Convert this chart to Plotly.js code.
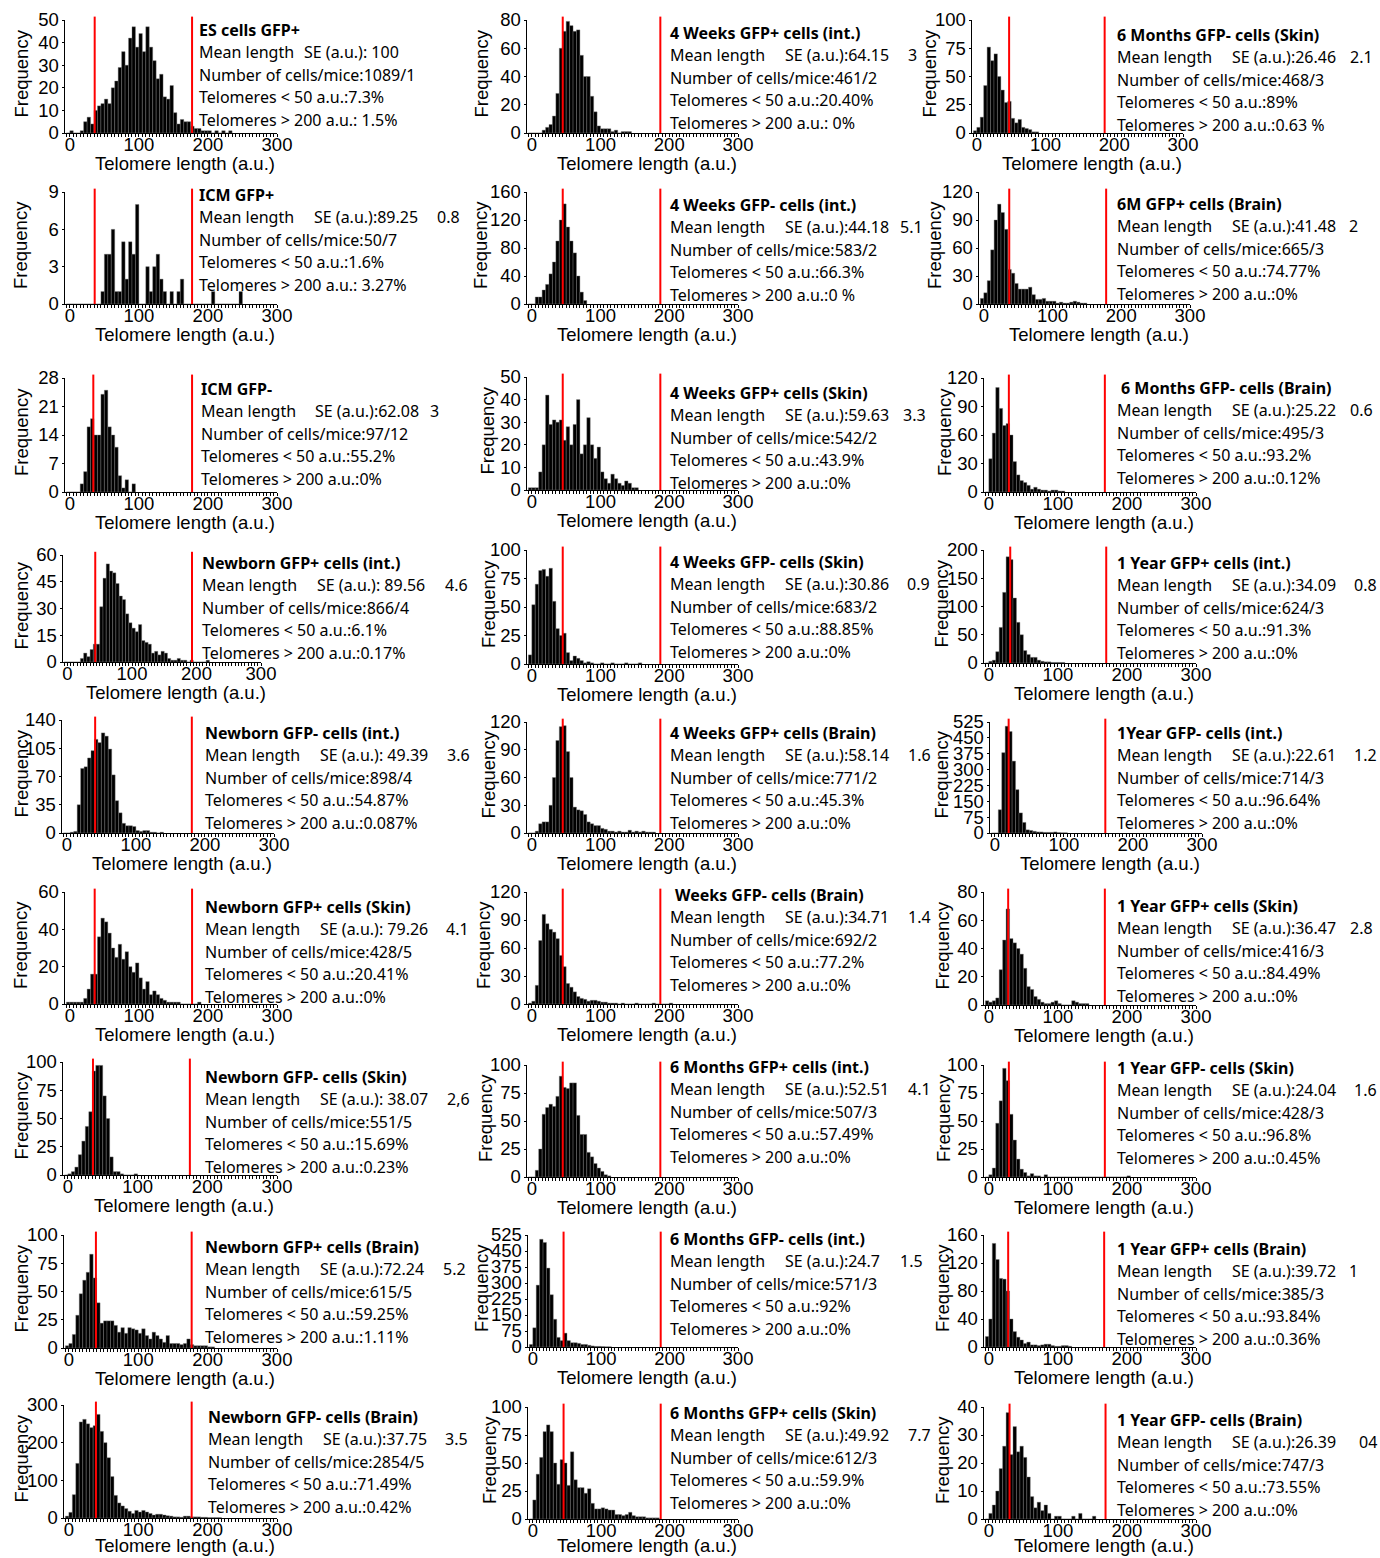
<!DOCTYPE html>
<html>
<head>
<meta charset="utf-8">
<script src="https://cdn.plot.ly/plotly-3.0.1.min.js"></script>
<style>html,body{margin:0;padding:0;background:#fff;}#chart{width:1380px;height:1558px;}</style>
</head>
<body>
<div id="chart"></div>
<script>
// ---------- DATA ----------
// Histogram counts, bins of 5 a.u.; first value = bin [-5,0), then [0,5), [5,10), ...
const binWidth = 5;
const esGfpPos      = [0,1,0,0,1,5,7,4,10,12,13,15,13,20,23,29,36,30,42,47,38,44,36,47,38,32,24,26,16,15,21,9,4,6,5,5,3,2,2,1,1,1,0,1,0,1,0,1];
const icmGfpPos     = [0,0,0,0,0,0,0,0,0,0,1,4,4,6,1,1,5,2,5,4,8,0,0,3,1,3,4,2,1,0,1,0,1,2,0,0,0,0,0,0,0,0,1,0,0,0,0,0,0,0,1];
const icmGfpNeg     = [0,0,0,0,2,5,16,18,14,14,24,25,16,14,11,4,1,3,0,2];
const nbGfpPosInt   = [0,0,0,0,0,2,5,3,7,10,10,31,47,55,51,50,44,37,35,27,22,19,17,21,12,11,10,5,6,4,6,5,2,1,1,2,1,1,0,1,0,0,0,0,1];
const nbGfpNegInt   = [0,0,1,2,35,80,82,93,102,116,112,124,120,104,72,40,25,12,9,9,8,3,2,3,3,1,1,0,1];
const nbGfpPosSkin  = [1,1,1,1,1,3,8,16,16,36,46,44,38,30,25,32,24,28,20,17,22,14,8,12,5,7,5,3,2,1,1,1,1,0,0,0,0,0,1];
const nbGfpNegSkin  = [0,1,3,7,18,30,43,56,92,97,97,70,50,16,3,3,1,0,0,0,1];
const nbGfpPosBrain = [2,4,12,29,48,60,67,83,62,40,22,24,24,24,20,14,18,13,18,17,16,13,17,11,8,14,11,8,5,11,4,4,4,3,4,8,3,2,2,2,2,1,1];
const nbGfpNegBrain = [5,15,62,145,255,262,250,240,245,275,230,200,160,110,60,40,32,25,18,12,20,16,20,16,12,8,10,10,8,6,5,3,3,2,5,5,3,3,3,2,2,1,1,1,1];
const w4GfpPosInt   = [0,0,0,0,2,4,6,12,28,60,72,79,76,72,73,55,40,40,26,15,5,3,3,3,1,2,0,1,1,1];
const w4GfpNegInt   = [0,0,10,10,20,28,43,60,90,120,143,110,90,73,40,17,5];
const w4GfpPosSkin  = [1,1,1,8,20,42,29,31,30,31,22,28,20,29,40,16,20,32,20,14,19,8,5,3,7,5,3,2,4,3,1,1];
const w4GfpNegSkin  = [8,52,70,82,83,77,84,55,31,25,27,10,3,7,5,3,1,2,1,0,0,1,0,0,1,0,0,0,1,0,0,0,1];
const w4GfpPosBrain = [0,0,2,10,12,12,30,60,100,115,116,88,60,28,25,24,20,12,10,8,8,5,4,2,2,1,2,1,1,3,1,2,1,2,1,1,1];
const w4GfpNegBrain = [1,3,20,68,96,86,80,77,70,52,40,22,18,13,8,6,5,3,4,4,3,2,2,1,1,1,0,1,0,0,0,1,0,0,0,0,1,0,0,0,0,1];
const m6GfpPosInt   = [0,0,6,25,56,62,65,63,72,90,80,79,84,84,55,38,38,22,18,12,8,5,2,1];
const m6GfpNegInt   = [12,90,290,505,490,370,245,130,45,30,65,30,20,20,17,12,12,8,5,3,3,2,1,1];
const m6GfpPosSkin  = [0,17,40,55,78,84,78,50,31,53,50,30,60,35,28,28,23,27,14,9,9,10,9,8,8,4,4,3,4,6,3,2,2,2,1,1,1,1];
const m6GfpNegSkin  = [2,5,14,42,76,64,70,50,38,27,28,13,9,12,5,4,3,1,1];
const m6GfpPosBrain = [6,12,25,58,90,107,98,80,37,33,22,16,16,16,18,10,5,5,6,3,3,3,1,2,1,1,2,3,2,1,1];
const m6GfpNegBrain = [0,35,62,110,88,70,72,60,32,18,12,10,7,3,5,3,2,2,1,2,2,1,1];
const y1GfpPosInt   = [0,3,5,20,63,125,188,183,115,72,50,22,15,10,10,5,3,2,2,1,1,1,1];
const y1GfpNegInt   = [0,0,110,380,505,480,340,205,95,50,15,12,8,5,5,3,3,3,5,2,1,1];
const y1GfpPosSkin  = [3,2,3,5,25,46,68,47,44,40,36,26,13,11,6,4,2,1,1,2,3,1,0,0,0,3,2,1,1,1];
const y1GfpNegSkin  = [0,2,8,48,68,97,86,56,33,16,7,4,1,3,1,1,0,2,0,0,0,0,0,0,0,0,0,0,0,0,0,0,0,0,0,0,0,0,0,0,0,1];
const y1GfpPosBrain = [15,40,148,125,98,97,80,40,22,14,10,5,7,3,3,2,3,4,4,2,1,1,2,2,1];
const y1GfpNegBrain = [0,2,5,10,18,26,38,23,33,24,26,22,15,8,4,6,3,5,2,0,1,1,0,0,0,1,0,2,0,0,0,1];

// panel order: column by column, top to bottom
const seriesList = [esGfpPos, icmGfpPos, icmGfpNeg, nbGfpPosInt, nbGfpNegInt, nbGfpPosSkin, nbGfpNegSkin, nbGfpPosBrain, nbGfpNegBrain,
  w4GfpPosInt, w4GfpNegInt, w4GfpPosSkin, w4GfpNegSkin, w4GfpPosBrain, w4GfpNegBrain, m6GfpPosInt, m6GfpNegInt, m6GfpPosSkin,
  m6GfpNegSkin, m6GfpPosBrain, m6GfpNegBrain, y1GfpPosInt, y1GfpNegInt, y1GfpPosSkin, y1GfpNegSkin, y1GfpPosBrain, y1GfpNegBrain];

// y-axis maxima and tick steps
const yMax  = [50,9,28,60,140,60,100,100,300, 80,160,50,100,120,120,100,525,100, 100,120,120,200,525,80,100,160,40];
const yStep = [10,3,7,15,35,20,25,25,100, 20,40,10,25,30,30,25,75,25, 25,30,30,50,75,20,25,40,10];
const xTicks = [0,100,200,300];

// red threshold lines, as they sit on each panel's axis
const lowLine  = [36,36,34,43,41,36,36,39,39, 45,45,45,45,45,45,45,45,45, 47,37,29,31,20,28,29,28,30];
const highLine = [177,177,177,193,181,177,175,177,177, 187,187,187,187,187,187,187,187,187, 186,178,168,170,160,168,168,167,169];

// text
const panelTitles = ["ES cells GFP+","ICM GFP+","ICM GFP-","Newborn GFP+ cells (int.)","Newborn GFP- cells (int.)","Newborn GFP+ cells (Skin)","Newborn GFP- cells (Skin)","Newborn GFP+ cells (Brain)","Newborn GFP- cells (Brain)",
  "4 Weeks GFP+ cells (int.)","4 Weeks GFP- cells (int.)","4 Weeks GFP+ cells (Skin)","4 Weeks GFP- cells (Skin)","4 Weeks GFP+ cells (Brain)","Weeks GFP- cells (Brain)","6 Months GFP+ cells (int.)","6 Months GFP- cells (int.)","6 Months GFP+ cells (Skin)",
  "6 Months GFP- cells (Skin)","6M GFP+ cells (Brain)","6 Months GFP- cells (Brain)","1 Year GFP+ cells (int.)","1Year GFP- cells (int.)","1 Year GFP+ cells (Skin)","1 Year GFP- cells (Skin)","1 Year GFP+ cells (Brain)","1 Year GFP- cells (Brain)"];
const seText = ["SE (a.u.): 100","SE (a.u.):89.25","SE (a.u.):62.08","SE (a.u.): 89.56","SE (a.u.): 49.39","SE (a.u.): 79.26","SE (a.u.): 38.07","SE (a.u.):72.24","SE (a.u.):37.75",
  "SE (a.u.):64.15","SE (a.u.):44.18","SE (a.u.):59.63","SE (a.u.):30.86","SE (a.u.):58.14","SE (a.u.):34.71","SE (a.u.):52.51","SE (a.u.):24.7","SE (a.u.):49.92",
  "SE (a.u.):26.46","SE (a.u.):41.48","SE (a.u.):25.22","SE (a.u.):34.09","SE (a.u.):22.61","SE (a.u.):36.47","SE (a.u.):24.04","SE (a.u.):39.72","SE (a.u.):26.39"];
const seExtra = ["","0.8","3","4.6","3.6","4.1","2,6","5.2","3.5", "3","5.1","3.3","0.9","1.6","1.4","4.1","1.5","7.7", "2.1","2","0.6","0.8","1.2","2.8","1.6","1","04"];
const cellsMice = ["1089/1","50/7","97/12","866/4","898/4","428/5","551/5","615/5","2854/5", "461/2","583/2","542/2","683/2","771/2","692/2","507/3","571/3","612/3", "468/3","665/3","495/3","624/3","714/3","416/3","428/3","385/3","747/3"];
const below50 = ["7.3%","1.6%","55.2%","6.1%","54.87%","20.41%","15.69%","59.25%","71.49%", "20.40%","66.3%","43.9%","88.85%","45.3%","77.2%","57.49%","92%","59.9%", "89%","74.77%","93.2%","91.3%","96.64%","84.49%","96.8%","93.84%","73.55%"];
const above200 = [" 1.5%"," 3.27%","0%","0.17%","0.087%","0%","0.23%","1.11%","0.42%", " 0%","0 %","0%","0%","0%","0%","0%","0%","0%", "0.63 %","0%","0.12%","0%","0%","0%","0.45%","0.36%","0%"];

// ---------- LAYOUT GEOMETRY (pixels) ----------
const W = 1380, H = 1558;
const geom = [ // [x0, x1, top, bottom]
  [65,277,20,133],[65,277,192,304],[65,277,378,492],[63,261,555,662],[62,274,720,833],[65,277,892,1004],[63,277,1062,1175],[64,277,1235,1348],[64,277,1405,1518],
  [527,738,20,133],[527,738,192,304],[527,738,377,490],[527,738,550,664],[527,738,722,833],[527,738,892,1004],[527,738,1065,1177],[528,738,1235,1347],[528,738,1407,1519],
  [972,1183,20,133],[979,1190,192,304],[984,1196,378,492],[984,1196,550,663],[990,1202,722,833],[984,1196,892,1005],[984,1196,1065,1177],[984,1196,1235,1347],[984,1196,1407,1519]];
const textX = [197,197,199,200,203,203,203,203,206, 668,668,668,668,668,668,668,668,668, 1115,1115,1115,1115,1115,1115,1115,1115,1115];
const titleDx = [0,0,0,0,0,0,0,0,0, 0,0,0,0,0,5,0,0,0, 0,0,4,0,0,0,0,0,0];
const textY = [30,195,389,563,733,907,1077,1247,1417, 33,205,393,562,733,895,1067,1239,1413, 35,204,388,563,733,906,1068,1249,1420];
const seDx = [105,115,114,115,115,115,115,115,115, 115,115,115,115,115,115,115,115,115, 115,115,115,115,115,115,115,115,115];
const extraRight = [0,462,441,470,472,471,472,468,470, 919,925,928,932,933,933,933,925,933, 1375,1360,1375,1379,1379,1375,1379,1360,1379];
const freqX = [21,21,21,21,21,21,21,21,21, 481,481,487,488,488,484,485,481,489, 929,935,944,941,941,942,943,942,942];

const px = v => v / W, py = v => 1 - v / H;
const tickFont = {family: 'Liberation Sans, Arial, sans-serif', size: 18.5, color: '#000'};
const infoFont = {family: 'Noto Sans, Open Sans, sans-serif', size: 16, color: '#000'};
const lineGap = 22.4;

const data = [], shapes = [], annotations = [];
const layout = {width: W, height: H, margin: {l:0, r:0, t:0, b:0}, showlegend: false,
  paper_bgcolor: '#fff', plot_bgcolor: 'rgba(0,0,0,0)', bargap: 0};

seriesList.forEach((counts, p) => {
  const n = p + 1, xa = 'x' + (n === 1 ? '' : n), ya = 'y' + (n === 1 ? '' : n);
  const xk = 'xaxis' + (n === 1 ? '' : n), yk = 'yaxis' + (n === 1 ? '' : n);
  const g = geom[p];
  data.push({type: 'bar', xaxis: xa, yaxis: ya,
    x: counts.map((_, i) => (i - 1) * binWidth + binWidth / 2), y: counts, width: binWidth,
    marker: {color: '#000', line: {color: '#7a7a7a', width: 0.4}}, hoverinfo: 'skip'});
  layout[xk] = {domain: [px(g[0]), px(g[1])], anchor: ya, range: [-7, 300],
    tickmode: 'array', tickvals: xTicks, ticktext: xTicks.map(String),
    ticks: '', ticklabelstandoff: -6,
    minor: {tickmode: 'linear', tick0: 0, dtick: 5, ticks: 'outside', ticklen: 2.5, tickcolor: '#000', tickwidth: 1, showgrid: false},
    showline: true, linecolor: '#000', linewidth: 1.4, showgrid: false, zeroline: false,
    tickfont: tickFont, fixedrange: true};
  layout[yk] = {domain: [py(g[3]), py(g[2])], anchor: xa, range: [0, yMax[p]],
    tickmode: 'linear', tick0: 0, dtick: yStep[p], ticks: 'outside', ticklen: 2, tickcolor: '#000',
    ticklabelstandoff: -1,
    showline: true, linecolor: '#000', linewidth: 1.4, showgrid: false, zeroline: false,
    tickfont: tickFont, fixedrange: true};
  [lowLine[p], highLine[p]].forEach(v => shapes.push({type: 'line', xref: xa, yref: ya + ' domain',
    x0: v, x1: v, y0: 0, y1: 1.03, line: {color: '#ff0000', width: 2}}));
  // axis titles
  annotations.push({xref: 'paper', yref: 'paper', x: px(freqX[p]), y: py((g[2] + g[3]) / 2 - 3),
    text: 'Frequency', textangle: -90, showarrow: false, xanchor: 'center', yanchor: 'middle', font: {...tickFont, size: 18.5}});
  annotations.push({xref: 'paper', yref: 'paper', x: px((g[0] + g[1]) / 2 + 14), y: py(Math.min(g[3] + 30, 1545)),
    text: 'Telomere length (a.u.)', showarrow: false, xanchor: 'center', yanchor: 'middle', font: {...tickFont, size: 18.5}});
  // info block
  const tx = textX[p], ty = textY[p];
  const lines = ['<b>' + panelTitles[p] + '</b>', 'Mean length', 'Number of cells/mice:' + cellsMice[p],
    'Telomeres < 50 a.u.:' + below50[p], 'Telomeres > 200 a.u.:' + above200[p]];
  lines.forEach((t, i) => annotations.push({xref: 'paper', yref: 'paper',
    x: px(tx + (i === 0 ? titleDx[p] : 0)), y: py(ty + i * lineGap), text: t, showarrow: false,
    xanchor: 'left', yanchor: 'middle', font: infoFont}));
  annotations.push({xref: 'paper', yref: 'paper', x: px(tx + seDx[p]), y: py(ty + lineGap), text: seText[p],
    showarrow: false, xanchor: 'left', yanchor: 'middle', font: infoFont});
  if (seExtra[p]) annotations.push({xref: 'paper', yref: 'paper', x: px(extraRight[p]), y: py(ty + lineGap), text: seExtra[p],
    showarrow: false, xanchor: 'right', yanchor: 'middle', font: infoFont});
});
// panel letter (cut at the top edge, as in the source figure)
annotations.push({xref: 'paper', yref: 'paper', x: px(1), y: py(7), text: '<b>a</b>', showarrow: false,
  xanchor: 'left', yanchor: 'bottom', font: {family: 'Liberation Sans, Arial', size: 26, color: '#000'}});

layout.shapes = shapes;
layout.annotations = annotations;
Plotly.newPlot('chart', data, layout, {staticPlot: true, displayModeBar: false});
</script>
</body>
</html>
